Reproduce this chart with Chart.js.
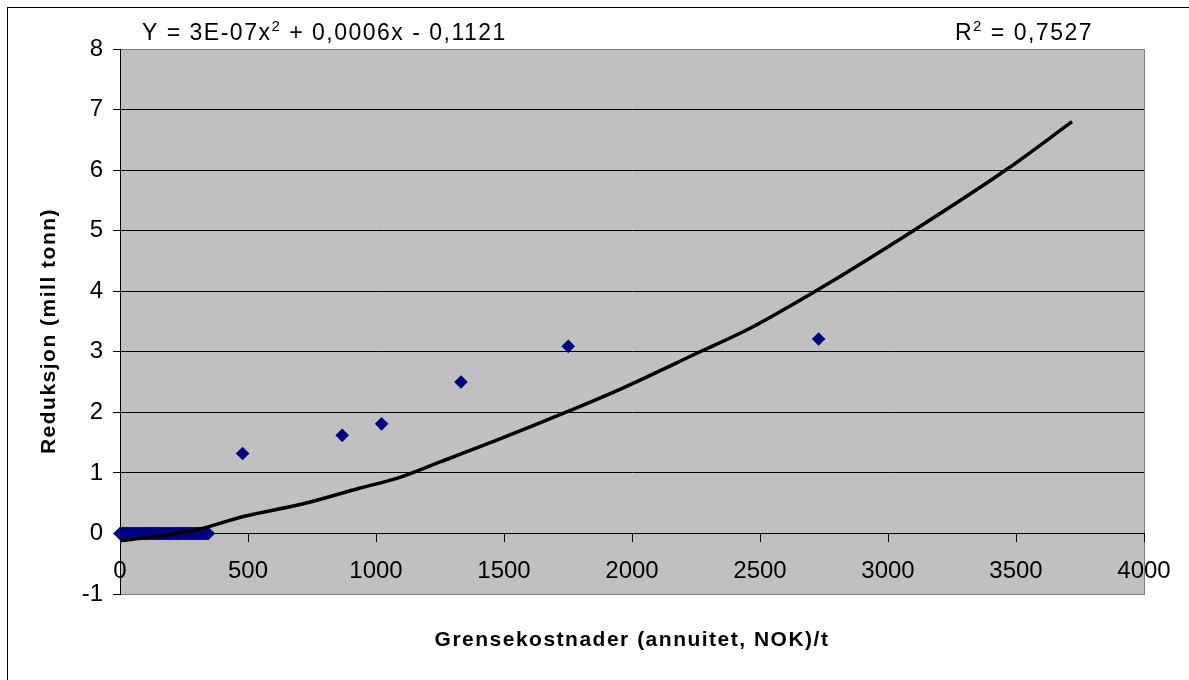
<!DOCTYPE html>
<html>
<head>
<meta charset="utf-8">
<script src="https://cdn.jsdelivr.net/npm/chart.js@4"></script>
<style>
  body { margin: 0; background: #fff; }
  canvas { display: block; }
</style>
</head>
<body>
<canvas id="chart" width="1189" height="680"></canvas>
<script>
// Data
const clusterX = [0, 4, 8, 12, 16, 20, 25, 30, 35, 40, 45, 50, 55, 60, 65, 70, 75, 80, 85, 90, 95,
    100, 105, 110, 115, 120, 125, 130, 135, 140, 145, 150, 155, 160, 165, 170, 175, 180, 185, 190,
    195, 200, 205, 210, 215, 220, 225, 230, 235, 240, 245, 250, 255, 260, 265, 270, 275, 280, 285,
    290, 295, 300, 305, 310, 315, 320, 325, 330, 335, 340, 345];
const pointX = [479, 868, 1022, 1332, 1751, 2729];
const pointY = [1.32, 1.62, 1.81, 2.50, 3.09, 3.21];
const trendX = [0, 150, 300, 482, 716, 938, 1081, 1250, 1484, 1764, 1953, 2266, 2448, 2578, 2721, 3099, 3463, 3719];
const trendY = [-0.12, -0.04, 0.06, 0.28, 0.49, 0.75, 0.91, 1.18, 1.56, 2.04, 2.38, 3.0, 3.36, 3.66, 4.01, 5.0, 6.01, 6.8];
const xTicks = [0, 500, 1000, 1500, 2000, 2500, 3000, 3500, 4000];
const yTicks = [-1, 0, 1, 2, 3, 4, 5, 6, 7, 8];

const FONT = "'Liberation Sans', Arial, sans-serif";

const scatterData = clusterX.map(x => ({ x: x, y: 0 }))
    .concat(pointX.map((x, i) => ({ x: x, y: pointY[i] })));
const trendData = trendX.map((x, i) => ({ x: x, y: trendY[i] }));

// Draw text followed by a superscript "2"
function drawSup(ctx, parts, x, base) {
    ctx.font = '23px ' + FONT;
    ctx.fillText(parts[0], x, base);
    x += ctx.measureText(parts[0]).width;
    ctx.font = '15px ' + FONT;
    ctx.fillText('2', x, base - 9);
    x += ctx.measureText('2').width;
    ctx.font = '23px ' + FONT;
    ctx.fillText(parts[1], x, base);
}

// Background, frame and texts
const decor = {
    id: 'decor',
    beforeDraw(chart) {
        const { ctx, chartArea: a } = chart;
        ctx.save();
        ctx.fillStyle = '#fff';
        ctx.fillRect(0, 0, chart.width, chart.height);
        ctx.strokeStyle = '#000';
        ctx.lineWidth = 1;
        ctx.strokeRect(7.5, 7.5, 1200, 700);
        ctx.fillStyle = '#C0C0C0';
        ctx.fillRect(a.left, a.top, a.right - a.left, a.bottom - a.top);
        ctx.strokeStyle = '#808080';
        ctx.strokeRect(a.left + 0.5, a.top + 0.5, a.right - a.left, a.bottom - a.top);
        ctx.restore();
    },
    afterDraw(chart) {
        const { ctx, chartArea: a } = chart;
        ctx.save();
        ctx.fillStyle = '#000';
        ctx.textBaseline = 'alphabetic';
        ctx.letterSpacing = '1.5px';

        drawSup(ctx, ['Y = 3E-07x', ' + 0,0006x - 0,1121'], 142, 40);
        drawSup(ctx, ['R', ' = 0,7527'], 955, 40);

        // axis titles
        ctx.font = 'bold 21px ' + FONT;
        ctx.textAlign = 'center';
        ctx.textBaseline = 'middle';
        ctx.fillText('Grensekostnader (annuitet, NOK)/t', (a.left + a.right) / 2, 640);
        ctx.translate(49, 331);
        ctx.rotate(-Math.PI / 2);
        ctx.fillText('Reduksjon (mill tonn)', 0, 0);
        ctx.restore();
    }
};

const ctx = document.getElementById('chart').getContext('2d');
const chart = new Chart(ctx, {
    type: 'scatter',
    data: {
        datasets: [
            {
                label: 'Trend',
                data: trendData,
                showLine: true,
                borderColor: '#000',
                borderWidth: 3.5,
                pointRadius: 0,
                cubicInterpolationMode: 'monotone',
                order: 0,
                clip: false
            },
            {
                label: 'Reduksjon',
                data: scatterData,
                pointStyle: 'rectRot',
                pointRadius: 6.8,
                backgroundColor: '#000080',
                borderColor: '#000080',
                borderWidth: 0,
                order: 1,
                clip: false
            }
        ]
    },
    options: {
        responsive: false,
        animation: false,
        devicePixelRatio: 1,
        layout: {
            padding: { left: 0, top: 49, right: 45, bottom: 86 }
        },
        plugins: {
            legend: { display: false },
            tooltip: { enabled: false }
        },
        scales: {
            x: {
                type: 'linear',
                position: { y: 0 },
                min: 0,
                max: 4000,
                afterBuildTicks: (scale) => { scale.ticks = xTicks.map(v => ({ value: v })); },
                ticks: {
                    color: '#000',
                    font: { family: FONT, size: 24 },
                    padding: 16,
                    maxRotation: 0,
                    autoSkip: false,
                    callback: (v) => String(v)
                },
                grid: {
                    drawOnChartArea: false,
                    drawTicks: true,
                    tickLength: 8,
                    color: '#000'
                },
                border: { color: '#000', width: 1 }
            },
            y: {
                type: 'linear',
                position: 'left',
                min: -1,
                max: 8,
                afterBuildTicks: (scale) => { scale.ticks = yTicks.map(v => ({ value: v })); },
                afterFit: (scale) => { scale.width = 120; },
                ticks: {
                    color: '#000',
                    font: { family: FONT, size: 24 },
                    padding: 10,
                    callback: (v) => String(v)
                },
                grid: {
                    color: (c) => (c.tick && (c.tick.value === -1 || c.tick.value === 8)) ? '#808080' : '#000',
                    tickColor: '#000',
                    tickLength: 7,
                    lineWidth: 1
                },
                border: { color: '#000', width: 1 }
            }
        }
    },
    plugins: [decor]
});
</script>
</body>
</html>
